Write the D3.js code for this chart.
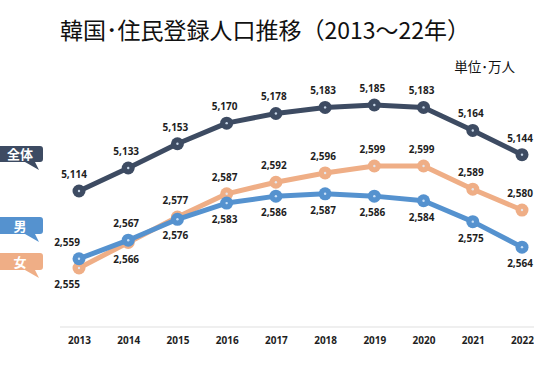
<!DOCTYPE html>
<html lang="ja">
<head>
    <meta charset="UTF-8">
    <title>韓国・住民登録人口推移</title>
    <script src="https://d3js.org/d3.v7.min.js"></script>
    <style>
        body { margin: 0; background: #fff; }
        svg { display: block; }
        .val { font: bold 10px "Open Sans", sans-serif; fill: #1e1e1e; }
        .tick text { font: bold 10px "Open Sans", sans-serif; fill: #1e1e1e; }
    </style>
</head>
<body>
<div id="chart"></div>
<script>
    // data (万人)
    const years = [2013, 2014, 2015, 2016, 2017, 2018, 2019, 2020, 2021, 2022];
    const total = [5114, 5133, 5153, 5170, 5178, 5183, 5185, 5183, 5164, 5144];
    const male = [2559, 2567, 2576, 2583, 2586, 2587, 2586, 2584, 2575, 2564];
    const female = [2555, 2566, 2577, 2587, 2592, 2596, 2599, 2599, 2589, 2580];

    const W = 534, H = 374;
    const svg = d3.select("#chart").append("svg")
        .attr("width", W).attr("height", H);

    const x = d3.scaleLinear().domain([2013, 2022]).range([79, 522]);
    // total and the male/female pair are drawn on separate vertical scales
    const yTotal = d3.scaleLinear().domain([5114, 5185]).range([191, 105]);
    const ySex = d3.scaleLinear().domain([2555, 2599]).range([268, 166]);

    // title
    svg.append("text")
        .attr("x", 265).attr("y", 39)
        .attr("text-anchor", "middle")
        .style("font", "23px 'Noto Sans CJK JP', sans-serif")
        .attr("fill", "#111")
        .text("韓国･住民登録人口推移（2013～22年）");

    svg.append("text")
        .attr("x", 515).attr("y", 72)
        .attr("text-anchor", "end")
        .style("font", "13.5px 'Noto Sans CJK JP', sans-serif")
        .attr("fill", "#111")
        .text("単位･万人");

    // baseline + year labels
    const axis = svg.append("g")
        .attr("transform", "translate(0,327)")
        .call(d3.axisBottom(x).tickValues(years).tickFormat(d3.format("d")).tickSize(0).tickPadding(10));
    axis.select(".domain").remove();
    axis.append("line")
        .attr("x1", 60).attr("x2", W)
        .attr("stroke", "#efefef").attr("stroke-width", 2);

    const series = [
        { name: "全体", values: total, y: yTotal, color: "#3d4b62", labelPos: years.map(() => -1), boxY: 146, boxH: 16 },
        { name: "女", values: female, y: ySex, color: "#efae86", labelPos: [1, 1, -1, -1, -1, -1, -1, -1, -1, -1], boxY: 253, boxH: 17 },
        { name: "男", values: male, y: ySex, color: "#5592cf", labelPos: [-1, -1, 1, 1, 1, 1, 1, 1, 1, 1], boxY: 217, boxH: 17 }
    ];

    function plotSeries(s) {
        const pts = years.map((yr, i) => ({ year: yr, value: s.values[i], pos: s.labelPos[i] }));
        const g = svg.append("g");
        g.append("path")
            .datum(pts)
            .attr("fill", "none")
            .attr("stroke", s.color)
            .attr("stroke-width", 5)
            .attr("stroke-linejoin", "round")
            .attr("d", d3.line().x(d => x(d.year)).y(d => s.y(d.value)));
        g.selectAll("circle.m").data(pts).join("circle")
            .attr("class", "m")
            .attr("cx", d => x(d.year)).attr("cy", d => s.y(d.value))
            .attr("r", 6.5).attr("fill", s.color);
        g.selectAll("circle.c").data(pts).join("circle")
            .attr("class", "c")
            .attr("cx", d => x(d.year)).attr("cy", d => s.y(d.value))
            .attr("r", 1.2).attr("fill", "#dfefff").attr("opacity", 0.85);
        return pts;
    }

    function plotLabels(s, pts) {
        svg.append("g").selectAll("text").data(pts).join("text")
            .attr("class", "val")
            .attr("x", d => x(d.year) - (d.year === 2013 && s.y === ySex ? 12 : d.year === 2013 ? 5 : 2))
            .attr("y", d => s.y(d.value) + (d.pos < 0 ? -13 : 20))
            .attr("text-anchor", "middle")
            .text(d => d3.format(",")(d.value));
    }

    const allPts = series.map(s => plotSeries(s));
    series.forEach((s, i) => plotLabels(s, allPts[i]));

    // callout legend boxes on the left
    series.forEach(s => {
        const top = s.boxY, bot = s.boxY + s.boxH, r = 3, right = 43;
        const p = d3.path();
        p.moveTo(-5, top);
        p.lineTo(right - r, top);
        p.quadraticCurveTo(right, top, right, top + r);
        p.lineTo(right, bot - r);
        p.quadraticCurveTo(right, bot, right - r, bot);
        p.lineTo(right - 8, bot);
        p.lineTo(39, bot + 8);
        p.lineTo(right - 18, bot);
        p.lineTo(-5, bot);
        p.closePath();
        svg.append("path").attr("d", p.toString()).attr("fill", s.color);
        svg.append("text")
            .attr("x", 20).attr("y", top + s.boxH / 2 + 5)
            .attr("text-anchor", "middle")
            .style("font", "bold 13px 'Noto Sans CJK JP', sans-serif")
            .attr("fill", "#fff")
            .text(s.name);
    });
</script>
</body>
</html>
